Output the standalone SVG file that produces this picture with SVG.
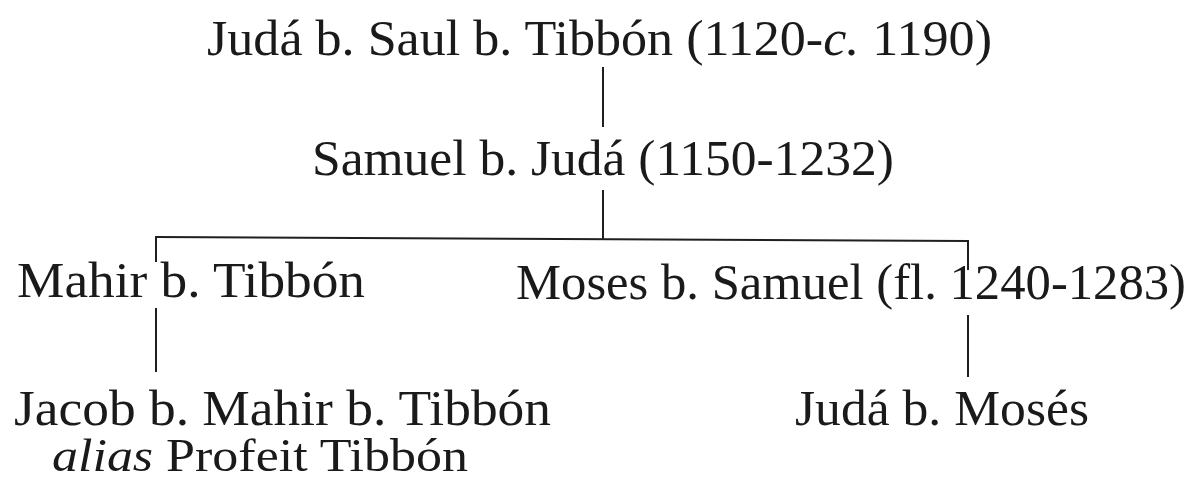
<svg xmlns="http://www.w3.org/2000/svg" width="1192" height="482" viewBox="0 0 1192 482">
<style>
text{font-family:"Liberation Serif","Times New Roman",serif;font-size:50px;fill:#1a1a1a}
.c line{stroke:#1f1f1f;stroke-width:2;fill:none}
.it{font-style:italic}
</style>
<rect width="1192" height="482" fill="#ffffff"/>
<g class="c" id="connectors">
<line x1="603" y1="67" x2="603" y2="127"/>
<line x1="603" y1="190" x2="603" y2="239"/>
<line x1="156" y1="237" x2="968" y2="241" stroke-width="3"/>
<line x1="156" y1="236" x2="156" y2="262"/>
<line x1="968" y1="240" x2="968" y2="270"/>
<line x1="156" y1="308" x2="156" y2="372"/>
<line x1="968" y1="315" x2="968" y2="377"/>
</g>
<g id="n1"><text x="207" y="55" textLength="785" lengthAdjust="spacingAndGlyphs">Judá b. Saul b. Tibbón (1120-<tspan class="it">c.</tspan> 1190)</text></g>
<g id="n2"><text x="312" y="175" textLength="582" lengthAdjust="spacingAndGlyphs">Samuel b. Judá (1150-1232)</text></g>
<g id="n3"><text x="17" y="297" textLength="348" lengthAdjust="spacingAndGlyphs">Mahir b. Tibbón</text></g>
<g id="n4"><text x="516" y="299" textLength="670" lengthAdjust="spacingAndGlyphs">Moses b. Samuel (fl. 1240-1283)</text></g>
<g id="n5"><text><tspan x="14" y="425" textLength="537" lengthAdjust="spacingAndGlyphs">Jacob b. Mahir b. Tibbón</tspan><tspan x="52" y="471" font-size="47" textLength="416" lengthAdjust="spacingAndGlyphs"><tspan class="it">alias</tspan> Profeit Tibbón</tspan></text></g>
<g id="n6"><text x="795" y="425" textLength="294" lengthAdjust="spacingAndGlyphs">Judá b. Mosés</text></g>
</svg>
